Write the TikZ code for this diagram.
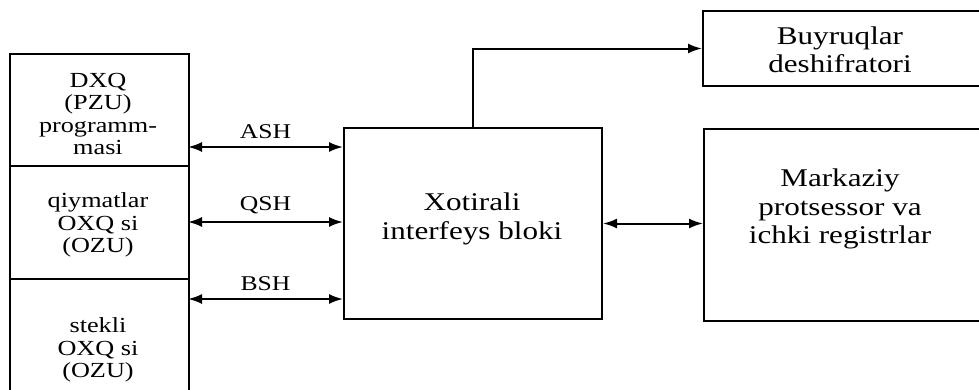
\documentclass[tikz,border=0pt]{standalone}
\usepackage{fontspec}
\setmainfont{Liberation Serif}[FakeStretch=1.22]
\usetikzlibrary{arrows.meta}
\begin{document}
\begin{tikzpicture}[x=1pt,y=-1pt,
  box/.style={draw,line width=2pt,rectangle,inner sep=0pt,anchor=north west},
  txt/.style={align=center,inner sep=0pt},
  bigtxt/.style={txt,font=\fontsize{25.5}{28.5}\selectfont},
  smalltxt/.style={txt,font=\fontsize{21.5}{22.5}\selectfont},
  lbl/.style={txt,font=\fontsize{21}{22}\selectfont},
  conn/.style={line width=2pt},
  tip/.style={-{Latex[length=14pt,width=10pt]}},
  bitip/.style={{Latex[length=14pt,width=10pt]}-{Latex[length=14pt,width=10pt]}}]
\useasboundingbox (0,0) rectangle (979,389);
\begin{scope}
\clip (0,0) rectangle (979,389);
% left column
\node[box,minimum width=179pt,minimum height=112pt] (dxq) at (9,53) {};
\node[box,minimum width=179pt,minimum height=113pt] (qiy) at (9,165) {};
\node[box,minimum width=179pt,minimum height=140pt] (stk) at (9,278) {};
\node[smalltxt] (dxqt) at (98,114) {DXQ\\(PZU)\\programm-\\masi};
\node[smalltxt] (qiyt) at (98,225) {qiymatlar\\OXQ si\\(OZU)};
\node[smalltxt] (stkt) at (98,350) {stekli\\OXQ si\\(OZU)};
% centre
\node[box,minimum width=258pt,minimum height=191pt] (xot) at (343,127) {};
\node[bigtxt] (xott) at (472,219) {Xotirali\\interfeys bloki};
% right
\node[box,minimum width=290pt,minimum height=75pt] (buy) at (702,10) {};
\node[bigtxt] (buyt) at (840,50) {Buyruqlar\\deshifratori};
\node[box,minimum width=290pt,minimum height=192pt] (mar) at (703,128) {};
\node[bigtxt] (mart) at (840,209) {Markaziy\\protsessor va\\ichki registrlar};
% connectors
\coordinate (a1) at (188,147); \coordinate (a2) at (343,147);
\coordinate (q1) at (188,222); \coordinate (q2) at (343,222);
\coordinate (b1) at (188,299); \coordinate (b2) at (343,299);
\draw[conn,bitip] (a1) -- node[lbl,above=7pt] (ash) {ASH} (a2);
\draw[conn,bitip] (q1) -- node[lbl,above=7pt] (qsh) {QSH} (q2);
\draw[conn,bitip] (b1) -- node[lbl,above=7pt] (bsh) {BSH} (b2);
\draw[conn,bitip] (xot.east) -- (xot.east -| mar.west);
\draw[conn,tip] (xot.north) |- (buy.west);
\end{scope}
\end{tikzpicture}
\end{document}
